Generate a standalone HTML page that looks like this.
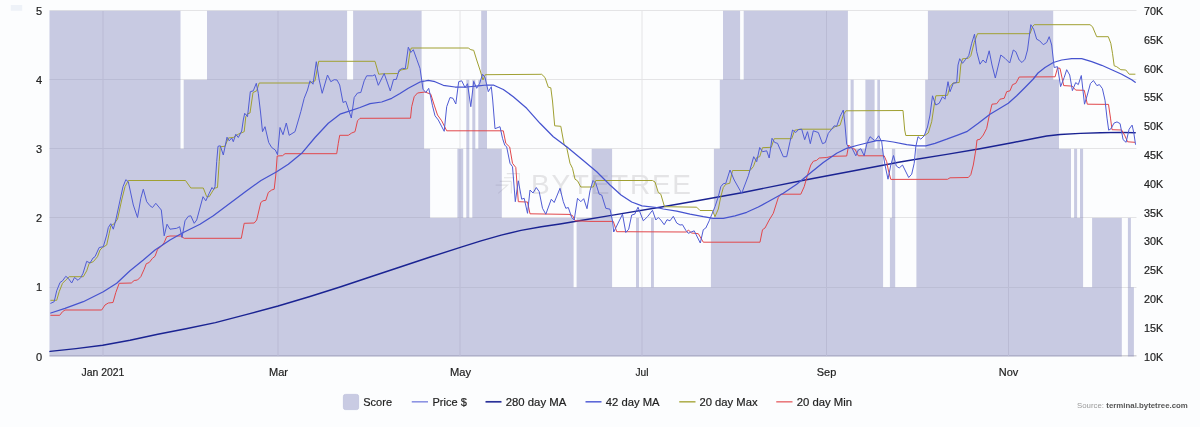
<!DOCTYPE html><html><head><meta charset="utf-8"><title>Score chart</title>
<style>html,body{margin:0;padding:0;background:#fcfdfe}svg{display:block}text{font-family:"Liberation Sans",sans-serif}</style></head><body>
<svg width="1200" height="427" viewBox="0 0 1200 427">
<rect width="1200" height="427" fill="#fcfdfe"/>
<rect x="10.8" y="5" width="11.4" height="5.8" fill="#eef2f8"/>
<g><path d="M49.5 10.5H1136.5" stroke="#e4e4e6" stroke-width="1"/><path d="M49.5 79.5H1136.5" stroke="#e4e4e6" stroke-width="1"/><path d="M49.5 148.5H1136.5" stroke="#e4e4e6" stroke-width="1"/><path d="M49.5 217.5H1136.5" stroke="#e4e4e6" stroke-width="1"/><path d="M49.5 287.5H1136.5" stroke="#e4e4e6" stroke-width="1"/><path d="M49.5 355.8H1136.5" stroke="#d3d3d6" stroke-width="1.5"/><path d="M103.0 10.5V356.5" stroke="#e4e4e6" stroke-width="1"/><path d="M278.0 10.5V356.5" stroke="#e4e4e6" stroke-width="1"/><path d="M460.0 10.5V356.5" stroke="#e4e4e6" stroke-width="1"/><path d="M642.0 10.5V356.5" stroke="#e4e4e6" stroke-width="1"/><path d="M826.5 10.5V356.5" stroke="#e4e4e6" stroke-width="1"/><path d="M1008.5 10.5V356.5" stroke="#e4e4e6" stroke-width="1"/></g>
<g opacity="0.9"><g stroke="#e0e0e2" stroke-width="1.1" fill="none"><path d="M506.8 173.6H519M504 177.7H514.6M499.8 181.4H511.3M495.7 185.1H507.6L498.2 193.3M519.3 173V193.5M511.3 181.4V193.5"/></g><text x="531" y="193.6" font-size="28" fill="#e2e2e4" textLength="160" lengthAdjust="spacing" style="font-weight:400">BYTETREE</text></g>
<g fill="rgba(122,126,186,0.40)"><rect x="49.5" y="10.80" width="131.0" height="69.00"/><rect x="207.0" y="10.80" width="140.1" height="69.00"/><rect x="353.1" y="10.80" width="68.5" height="69.00"/><rect x="481.2" y="10.80" width="5.8" height="69.00"/><rect x="723.0" y="10.80" width="17.1" height="69.00"/><rect x="743.7" y="10.80" width="104.2" height="69.00"/><rect x="927.9" y="10.80" width="125.3" height="69.00"/><rect x="49.5" y="79.80" width="131.0" height="69.00"/><rect x="183.7" y="79.80" width="240.4" height="69.00"/><rect x="466.3" y="79.80" width="3.0" height="69.00"/><rect x="472.3" y="79.80" width="3.0" height="69.00"/><rect x="478.3" y="79.80" width="8.7" height="69.00"/><rect x="719.8" y="79.80" width="128.1" height="69.00"/><rect x="850.6" y="79.80" width="3.1" height="69.00"/><rect x="865.4" y="79.80" width="9.2" height="69.00"/><rect x="877.3" y="79.80" width="2.7" height="69.00"/><rect x="925.2" y="79.80" width="133.8" height="69.00"/><rect x="49.5" y="148.80" width="380.6" height="69.10"/><rect x="457.4" y="148.80" width="5.8" height="69.10"/><rect x="466.3" y="148.80" width="3.0" height="69.10"/><rect x="472.3" y="148.80" width="29.5" height="69.10"/><rect x="591.7" y="148.80" width="20.4" height="69.10"/><rect x="713.9" y="148.80" width="169.2" height="69.10"/><rect x="891.9" y="148.80" width="3.3" height="69.10"/><rect x="916.4" y="148.80" width="154.6" height="69.10"/><rect x="1074.1" y="148.80" width="3.0" height="69.10"/><rect x="1080.0" y="148.80" width="3.1" height="69.10"/><rect x="49.5" y="217.90" width="524.1" height="69.40"/><rect x="576.6" y="217.90" width="35.5" height="69.40"/><rect x="636.0" y="217.90" width="3.0" height="69.40"/><rect x="651.0" y="217.90" width="2.9" height="69.40"/><rect x="710.9" y="217.90" width="172.2" height="69.40"/><rect x="889.9" y="217.90" width="5.3" height="69.40"/><rect x="916.4" y="217.90" width="166.7" height="69.40"/><rect x="1092.1" y="217.90" width="29.7" height="69.40"/><rect x="1127.9" y="217.90" width="3.0" height="69.40"/><rect x="49.5" y="287.30" width="1072.3" height="69.20"/><rect x="1127.9" y="287.30" width="6.0" height="69.20"/></g>
<g fill="none" stroke-linejoin="round" stroke-linecap="round">
<polyline stroke="#1a2392" stroke-width="1.45" points="50.0,351.4 76.0,348.6 102.7,345.3 130.0,340.2 157.8,334.3 186.0,328.7 215.4,322.6 246.0,314.6 278.1,306.0 310.0,296.5 340.8,286.7 370.0,277.0 400.9,266.7 431.0,256.8 461.1,247.1 481.0,240.9 501.2,235.1 521.0,230.4 541.3,226.8 560.0,224.0 576.3,221.3 611.3,215.4 660.0,207.3 700.0,200.3 741.7,192.7 805.0,180.0 850.0,171.5 900.0,162.0 913.3,159.8 946.7,154.4 980.0,148.7 1013.3,142.5 1035.0,138.2 1046.7,136.0 1060.1,134.5 1080.3,133.4 1100.4,132.7 1120.6,132.4 1135.2,132.7"/>
<polyline stroke="#a0a032" stroke-width="1.0" points="50.8,300.3 56.7,300.3 59.2,291.7 62.5,283.3 65.8,280.0 69.2,276.7 83.3,276.7 86.7,270.8 89.2,263.3 93.3,261.7 97.5,256.7 100.0,250.0 102.5,247.5 106.7,245.0 109.2,233.3 110.8,225.8 114.2,223.7 117.5,219.2 121.7,200.0 125.0,186.7 128.3,180.5 185.5,180.5 190.8,188.0 203.3,188.0 206.7,196.7 209.2,196.7 213.3,190.0 215.0,188.0 217.5,187.5 219.2,161.7 220.3,146.7 225.0,146.3 228.3,138.0 233.3,137.5 238.3,134.2 244.2,131.7 245.8,116.7 247.5,113.8 250.0,113.0 253.0,92.5 256.7,90.8 259.2,83.0 310.0,83.0 315.0,80.8 318.7,61.3 375.0,61.3 378.7,74.2 383.3,73.8 397.5,73.5 400.8,70.0 407.5,68.7 410.0,51.7 411.3,48.0 468.3,48.0 470.8,49.7 473.7,50.3 476.7,60.0 480.0,70.0 483.0,80.0 485.3,74.7 541.7,74.3 545.0,77.5 548.3,87.2 550.8,87.8 552.5,101.0 554.7,125.8 560.8,126.3 564.2,145.0 566.7,147.5 570.0,163.3 572.5,168.3 575.0,179.2 577.5,180.8 580.8,187.0 593.3,187.0 595.8,180.5 652.5,180.5 655.0,182.0 658.3,192.5 660.8,194.2 664.5,206.7 696.7,207.2 700.0,210.5 712.5,210.5 715.0,216.7 718.3,209.0 720.8,196.7 723.3,187.5 725.8,184.2 729.7,183.3 732.5,170.5 750.0,170.5 753.3,166.7 756.7,157.5 759.7,156.7 762.5,147.7 771.3,147.3 774.2,138.7 791.7,138.7 794.7,130.3 800.0,129.2 831.7,129.2 835.0,126.7 840.0,125.3 843.3,115.0 845.8,110.8 903.0,110.5 904.7,130.0 905.8,135.5 924.7,135.5 928.3,133.0 931.7,121.7 934.2,105.0 935.8,95.8 947.5,95.3 950.0,86.7 953.0,83.0 959.2,82.5 960.8,65.0 962.5,58.8 968.3,58.3 970.8,55.8 974.2,42.5 977.5,33.7 1030.0,33.7 1032.5,26.7 1034.2,24.7 1090.0,24.7 1092.5,26.7 1096.7,36.7 1108.3,36.7 1110.8,43.3 1112.5,53.3 1114.2,65.8 1116.7,66.7 1120.8,69.7 1125.8,70.0 1129.2,74.2 1135.0,74.2"/>
<polyline stroke="#e2474b" stroke-width="1.0" points="50.8,315.3 59.7,315.3 62.5,311.7 65.0,310.0 101.7,310.0 105.0,305.0 108.3,303.0 113.0,302.5 115.8,292.5 119.2,283.3 131.3,283.0 134.2,280.5 137.5,280.0 140.8,276.7 144.2,269.2 146.3,263.7 149.2,262.5 152.5,258.3 155.0,256.3 157.5,249.5 161.7,245.8 164.2,242.5 166.7,236.7 170.0,236.0 180.8,236.0 184.2,238.3 241.3,238.3 244.2,223.3 254.2,223.0 256.7,220.0 260.8,202.5 263.0,200.8 265.8,200.3 268.3,192.5 271.7,190.0 274.2,189.2 275.8,175.0 277.2,156.0 282.5,155.7 285.0,153.7 336.7,153.7 338.3,143.3 339.7,135.3 348.3,135.3 351.7,133.0 355.0,131.7 357.5,120.8 360.0,118.3 410.5,118.2 411.7,106.7 414.2,96.7 417.5,93.0 425.0,92.0 430.8,94.2 434.2,105.0 437.5,115.0 441.7,120.8 446.7,130.8 503.3,130.8 505.8,143.3 509.7,147.0 512.5,163.3 515.8,167.5 518.3,201.7 527.5,202.0 530.0,213.8 569.0,214.4 572.5,215.5 575.2,220.8 590.0,221.4 613.3,221.4 616.7,231.7 686.7,232.0 688.3,230.0 691.7,233.0 698.3,233.7 703.3,242.2 760.0,242.2 762.5,229.7 765.0,228.0 769.2,220.0 773.3,213.3 778.3,197.5 780.8,194.2 800.8,194.2 804.2,186.7 807.5,175.0 810.8,165.0 813.3,161.3 816.7,160.3 819.2,158.0 826.7,157.5 831.7,156.3 846.7,156.0 848.7,145.0 851.7,148.3 855.0,149.2 858.3,155.8 884.2,155.8 886.7,161.7 888.3,170.0 890.8,179.4 947.5,179.3 950.0,177.8 968.3,177.5 970.8,174.7 973.3,165.0 975.8,150.0 977.0,140.0 980.0,139.2 983.3,135.0 986.7,128.3 989.2,115.8 992.0,104.2 996.7,103.7 1000.0,99.2 1004.2,98.3 1006.7,91.7 1010.0,90.8 1012.5,84.7 1015.8,83.3 1019.2,77.0 1055.1,76.8 1057.5,68.0 1060.0,68.3 1063.7,85.6 1072.2,86.1 1075.7,90.1 1084.3,90.3 1087.3,104.2 1108.5,104.4 1110.5,118.1 1112.0,129.7 1121.6,130.0 1124.6,135.2 1127.6,141.8 1134.7,142.3"/>
<polyline stroke="#4653cf" stroke-width="1.25" points="50.8,313.0 65.0,308.3 83.3,301.7 103.3,291.7 116.7,283.3 130.0,270.8 143.3,260.0 155.0,250.0 170.0,240.0 183.3,232.5 200.0,224.2 213.3,215.8 230.0,203.3 246.7,190.8 261.0,180.5 276.7,171.7 288.3,164.2 301.7,153.3 315.0,137.5 328.3,123.3 340.0,114.2 350.0,110.8 360.0,107.5 370.0,103.7 381.7,102.0 391.7,98.3 400.0,93.5 408.3,88.3 420.0,82.0 428.3,80.3 435.0,81.7 443.3,85.3 455.0,87.0 466.7,87.0 478.3,85.8 486.7,85.0 493.3,85.0 503.3,89.5 513.3,96.7 526.7,108.3 540.0,123.3 553.3,136.7 566.7,146.7 583.3,160.5 596.7,171.7 610.0,185.0 621.0,195.0 631.7,202.0 642.0,205.8 656.7,207.5 663.3,209.0 676.7,211.2 690.0,214.2 703.3,216.7 713.3,218.3 723.3,218.3 735.0,215.8 746.7,212.3 758.3,207.0 768.0,201.8 783.3,193.3 796.7,184.2 810.0,173.3 823.3,162.5 836.7,153.3 846.7,148.3 856.7,145.5 866.7,143.0 876.7,140.6 883.3,140.5 893.3,142.0 906.7,144.7 916.7,145.8 925.8,145.8 935.0,143.3 946.7,139.2 958.3,134.8 966.7,131.7 978.3,123.3 990.0,114.2 1000.0,108.3 1008.3,103.3 1016.7,95.8 1025.0,87.5 1033.3,79.0 1038.0,73.0 1045.0,67.5 1053.3,62.5 1061.7,60.0 1071.7,58.7 1081.7,58.7 1091.7,61.7 1101.7,65.3 1111.7,69.7 1121.7,74.2 1131.7,79.7 1135.2,82.3"/>
<polyline stroke="#505cd4" stroke-width="1.0" points="50.8,303.3 54.2,301.7 56.7,290.8 60.0,282.5 62.5,280.8 65.8,276.3 68.3,278.3 71.7,283.0 74.5,277.5 78.0,280.3 80.8,277.5 83.0,273.3 86.7,261.3 90.0,263.0 93.0,258.0 95.0,256.7 98.0,250.0 99.2,247.5 103.3,246.7 106.7,235.0 108.3,227.5 110.8,223.7 113.3,229.2 115.8,220.0 120.8,196.7 123.0,186.7 125.8,179.7 128.3,181.7 133.3,205.0 137.5,217.5 140.8,198.3 143.3,189.2 146.7,201.7 150.0,205.8 152.5,207.5 155.8,203.3 161.3,210.0 164.2,235.8 167.0,224.2 170.0,229.2 176.7,228.3 179.7,226.7 182.0,237.5 185.0,220.8 188.3,216.3 190.8,215.8 194.2,223.3 196.7,220.0 203.0,196.7 205.8,200.8 209.2,193.3 212.0,187.5 213.5,189.5 215.0,186.7 216.7,161.7 218.0,146.3 220.3,145.8 223.3,155.0 227.0,137.2 229.2,140.8 231.7,138.0 233.3,141.7 235.8,134.2 238.3,137.5 241.7,131.0 243.3,120.0 244.7,113.3 247.5,116.7 250.3,91.7 253.3,90.8 256.3,83.3 258.3,93.3 260.5,112.0 262.5,131.7 265.0,126.7 268.7,142.5 271.7,147.5 275.3,150.0 277.5,154.7 280.0,127.5 283.0,134.7 286.3,123.0 289.2,135.3 295.0,131.7 299.0,118.0 300.8,111.7 304.2,98.3 307.5,90.0 310.0,80.8 313.0,84.2 316.3,61.7 319.2,80.0 322.2,93.3 327.5,75.0 330.8,81.7 334.2,79.7 337.0,80.0 339.7,85.0 343.0,102.5 345.8,101.3 351.3,118.0 354.2,97.5 357.5,93.0 360.8,92.5 364.2,80.8 366.7,75.8 372.5,75.8 375.0,74.7 378.3,85.3 384.2,73.5 390.3,91.0 393.5,79.5 396.3,79.4 399.2,70.0 402.5,68.3 405.3,68.7 408.3,47.2 410.8,52.5 413.3,49.7 416.7,59.2 420.0,68.3 423.0,89.2 425.8,92.5 428.7,88.3 430.5,96.0 432.5,105.8 435.0,115.8 438.3,120.0 444.2,131.3 446.7,106.7 450.0,97.5 453.0,98.3 455.8,104.0 458.7,81.7 461.7,80.8 465.0,87.5 467.5,83.7 470.8,106.7 473.7,81.3 476.7,88.3 479.7,83.3 482.5,74.2 485.0,77.5 488.3,91.7 491.3,86.7 492.7,100.0 495.0,128.7 500.0,126.7 502.5,138.3 504.7,145.0 506.7,147.0 510.0,163.3 512.5,166.7 515.3,201.7 518.3,180.8 521.7,199.2 524.2,198.3 527.5,213.3 530.0,190.0 533.0,193.0 536.3,187.5 539.2,191.7 542.5,208.3 545.8,214.2 551.3,199.2 554.2,202.5 560.0,188.3 563.3,201.7 565.8,208.3 568.3,207.5 571.7,217.5 574.2,220.0 577.5,198.3 580.8,201.7 583.7,198.7 587.0,208.7 590.0,190.8 593.0,180.5 595.8,183.3 599.2,194.2 601.7,195.0 605.8,208.3 610.0,209.2 612.5,221.0 613.7,232.0 622.5,214.2 625.8,232.5 628.7,229.2 631.7,215.0 634.7,214.2 638.0,207.2 643.3,220.8 647.5,216.7 652.5,210.3 655.8,220.0 658.3,217.5 660.8,220.0 664.2,224.7 667.0,219.7 670.0,220.8 673.3,216.3 676.7,223.0 680.0,225.0 682.5,224.7 685.8,230.3 688.3,233.3 690.8,232.2 694.2,230.8 700.3,243.0 703.3,229.7 705.8,228.0 709.2,220.8 715.0,206.7 718.3,196.7 720.8,186.7 723.3,183.7 725.8,183.3 730.0,170.0 734.2,180.0 741.7,193.3 748.3,175.8 753.7,156.7 756.7,161.7 759.7,147.5 762.5,151.7 766.7,150.8 769.2,158.0 772.0,138.3 774.7,142.5 777.5,143.3 783.3,156.7 786.7,156.7 790.0,141.7 792.5,130.0 795.8,132.5 798.3,129.7 801.7,129.2 804.7,139.7 807.5,131.7 810.3,143.7 813.3,130.8 818.3,132.5 822.5,143.7 825.3,142.5 828.3,133.3 831.7,129.2 834.2,125.8 836.7,126.3 840.0,116.7 843.3,110.0 845.0,125.0 846.7,144.2 849.2,148.3 851.7,147.5 855.8,155.8 858.3,150.0 860.8,148.7 864.2,155.8 866.7,144.2 870.0,136.7 875.0,140.8 878.7,135.8 881.7,141.7 883.3,155.0 885.0,165.0 888.0,179.2 890.8,165.0 893.5,155.5 896.3,166.0 899.2,168.0 902.5,165.0 908.7,177.5 911.7,174.2 914.2,163.3 915.8,146.7 918.0,136.7 920.8,139.2 924.2,135.8 927.5,127.0 930.0,115.0 932.5,95.8 935.8,105.0 939.2,103.3 942.5,96.7 945.0,99.2 948.0,81.7 950.0,91.7 953.3,83.3 956.7,82.5 958.0,65.0 959.7,58.7 962.5,63.3 965.8,59.2 968.7,55.8 971.7,43.3 974.5,34.2 976.7,51.7 980.0,64.2 983.0,60.0 985.8,63.0 989.2,50.8 992.0,65.0 995.3,78.0 1000.8,55.0 1005.0,58.3 1009.7,63.0 1013.3,50.0 1015.8,51.7 1019.2,60.0 1022.0,62.5 1025.0,59.2 1027.5,50.0 1030.8,24.7 1033.7,29.2 1036.7,39.2 1039.7,40.8 1043.3,44.7 1046.7,42.5 1049.2,36.7 1051.7,45.0 1054.2,67.5 1057.5,66.7 1060.6,86.6 1064.2,77.5 1066.7,69.7 1069.7,75.0 1072.4,90.6 1075.7,82.6 1078.3,84.6 1081.3,75.5 1084.5,104.2 1087.3,95.1 1090.4,83.6 1093.4,80.5 1096.9,85.6 1099.4,84.6 1102.4,88.6 1105.0,100.2 1107.0,118.1 1108.7,130.2 1111.0,128.7 1114.0,123.1 1117.0,121.9 1120.1,123.6 1123.1,139.7 1126.1,142.3 1129.1,129.2 1132.1,125.1 1133.7,132.2 1135.5,144.3"/>
</g>
<g font-size="11" fill="#222" stroke="#222" stroke-width="0.2"><text x="42" y="360.5" text-anchor="end">0</text><text x="42" y="291.4" text-anchor="end">1</text><text x="42" y="222.2" text-anchor="end">2</text><text x="42" y="153.1" text-anchor="end">3</text><text x="42" y="84.0" text-anchor="end">4</text><text x="42" y="14.9" text-anchor="end">5</text><text x="1144" y="360.5" textLength="19.2" lengthAdjust="spacingAndGlyphs">10K</text><text x="1144" y="331.7" textLength="19.2" lengthAdjust="spacingAndGlyphs">15K</text><text x="1144" y="302.9" textLength="19.2" lengthAdjust="spacingAndGlyphs">20K</text><text x="1144" y="274.1" textLength="19.2" lengthAdjust="spacingAndGlyphs">25K</text><text x="1144" y="245.3" textLength="19.2" lengthAdjust="spacingAndGlyphs">30K</text><text x="1144" y="216.5" textLength="19.2" lengthAdjust="spacingAndGlyphs">35K</text><text x="1144" y="187.7" textLength="19.2" lengthAdjust="spacingAndGlyphs">40K</text><text x="1144" y="158.9" textLength="19.2" lengthAdjust="spacingAndGlyphs">45K</text><text x="1144" y="130.1" textLength="19.2" lengthAdjust="spacingAndGlyphs">50K</text><text x="1144" y="101.3" textLength="19.2" lengthAdjust="spacingAndGlyphs">55K</text><text x="1144" y="72.5" textLength="19.2" lengthAdjust="spacingAndGlyphs">60K</text><text x="1144" y="43.7" textLength="19.2" lengthAdjust="spacingAndGlyphs">65K</text><text x="1144" y="14.9" textLength="19.2" lengthAdjust="spacingAndGlyphs">70K</text><text x="103.0" y="376.4" text-anchor="middle" textLength="42.8" lengthAdjust="spacingAndGlyphs">Jan 2021</text><text x="278.5" y="376.4" text-anchor="middle" textLength="19.0" lengthAdjust="spacingAndGlyphs">Mar</text><text x="460.5" y="376.4" text-anchor="middle" textLength="21.0" lengthAdjust="spacingAndGlyphs">May</text><text x="642.0" y="376.4" text-anchor="middle" textLength="13.0" lengthAdjust="spacingAndGlyphs">Jul</text><text x="826.5" y="376.4" text-anchor="middle" textLength="19.5" lengthAdjust="spacingAndGlyphs">Sep</text><text x="1008.5" y="376.4" text-anchor="middle" textLength="19.5" lengthAdjust="spacingAndGlyphs">Nov</text></g>
<g font-size="11.5" fill="#222"><rect x="343.4" y="394.4" width="15.2" height="15.2" rx="2" fill="#c9cbe3" stroke="#bfc1dd" stroke-width="0.8"/><text x="363.3" y="406" textLength="28.7" lengthAdjust="spacingAndGlyphs" stroke="#222" stroke-width="0.2">Score</text><path d="M411.75 401.8H428.00" stroke="#8d94e3" stroke-width="1.6"/><text x="432.50" y="406" textLength="34.25" lengthAdjust="spacingAndGlyphs" stroke="#222" stroke-width="0.2">Price $</text><path d="M485.50 401.8H501.50" stroke="#2a3199" stroke-width="1.7"/><text x="505.75" y="406" textLength="60.50" lengthAdjust="spacingAndGlyphs" stroke="#222" stroke-width="0.2">280 day MA</text><path d="M585.50 401.8H601.50" stroke="#5d68d8" stroke-width="1.6"/><text x="605.75" y="406" textLength="53.75" lengthAdjust="spacingAndGlyphs" stroke="#222" stroke-width="0.2">42 day MA</text><path d="M679.25 401.8H695.50" stroke="#b1b152" stroke-width="1.6"/><text x="699.50" y="406" textLength="58.00" lengthAdjust="spacingAndGlyphs" stroke="#222" stroke-width="0.2">20 day Max</text><path d="M776.25 401.8H792.50" stroke="#ea7b7e" stroke-width="1.6"/><text x="796.75" y="406" textLength="55.25" lengthAdjust="spacingAndGlyphs" stroke="#222" stroke-width="0.2">20 day Min</text></g>
<text x="1077" y="407.8" font-size="8" fill="#9a9a9a" textLength="27" lengthAdjust="spacingAndGlyphs">Source:</text>
<text x="1106.3" y="407.8" font-size="8" font-weight="bold" fill="#555" textLength="81.5" lengthAdjust="spacingAndGlyphs">terminal.bytetree.com</text>
</svg></body></html>
